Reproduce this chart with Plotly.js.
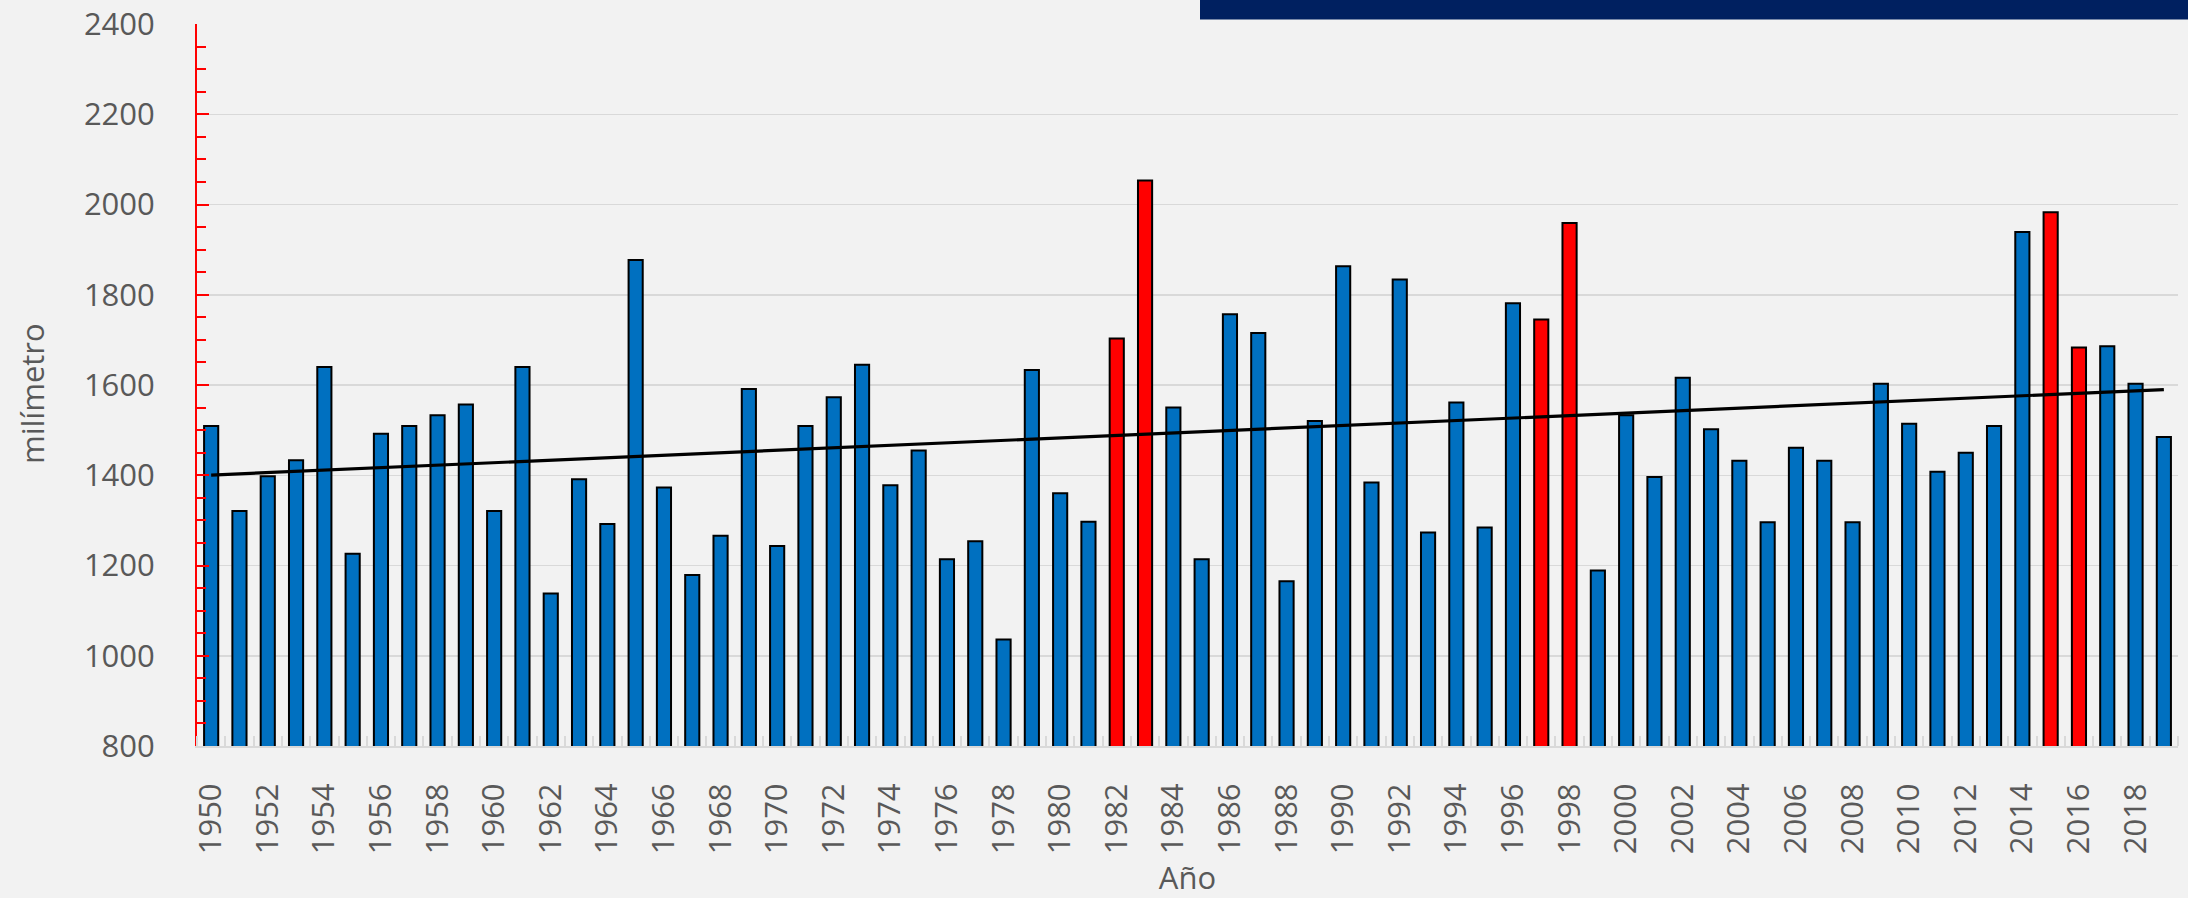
<!DOCTYPE html>
<html>
<head>
<meta charset="utf-8">
<script src="https://cdn.plot.ly/plotly-3.0.1.min.js"></script>
<style>
  html, body { margin: 0; padding: 0; background: #F2F2F2; }
  #chart { width: 2188px; height: 898px; }
</style>
</head>
<body>
<div id="chart"></div>
<script>
// ---- Data ----
const years = [
  1950, 1951, 1952, 1953, 1954, 1955, 1956, 1957, 1958, 1959,
  1960, 1961, 1962, 1963, 1964, 1965, 1966, 1967, 1968, 1969,
  1970, 1971, 1972, 1973, 1974, 1975, 1976, 1977, 1978, 1979,
  1980, 1981, 1982, 1983, 1984, 1985, 1986, 1987, 1988, 1989,
  1990, 1991, 1992, 1993, 1994, 1995, 1996, 1997, 1998, 1999,
  2000, 2001, 2002, 2003, 2004, 2005, 2006, 2007, 2008, 2009,
  2010, 2011, 2012, 2013, 2014, 2015, 2016, 2017, 2018, 2019
];
const rainfallMm = [
  1509, 1321, 1398, 1433, 1640, 1226, 1492, 1509, 1533, 1557,
  1321, 1640, 1138, 1391, 1292, 1877, 1373, 1179, 1266, 1591,
  1243, 1509, 1573, 1645, 1378, 1455, 1214, 1254, 1036, 1633,
  1360, 1297, 1703, 2053, 1550, 1214, 1757, 1715, 1165, 1520,
  1863, 1384, 1834, 1273, 1561, 1284, 1781, 1745, 1959, 1189,
  1533, 1396, 1616, 1502, 1432, 1296, 1461, 1432, 1296, 1603,
  1514, 1408, 1450, 1509, 1939, 1983, 1683, 1686, 1603, 1485
];
const highlightYears = [1982, 1983, 1997, 1998, 2015, 2016];
const xTitle = 'Año';
const yTitle = 'milímetro';

// ---- Styles ----
const BLUE = '#0070C0';
const RED = '#FF0000';
const TEXT = '#595959';
const GRID = '#D9D9D9';
const BG = '#F2F2F2';
const NAVY = '#002060';

const barColors = years.map(y => highlightYears.includes(y) ? RED : BLUE);

// Linear trend line (least squares fit of the data, as in the original spreadsheet)
const n = years.length;
const mx = years.reduce((a, b) => a + b, 0) / n;
const my = rainfallMm.reduce((a, b) => a + b, 0) / n;
let sxy = 0, sxx = 0;
for (let i = 0; i < n; i++) {
  sxy += (years[i] - mx) * (rainfallMm[i] - my);
  sxx += (years[i] - mx) * (years[i] - mx);
}
const slope = sxy / sxx;
const intercept = my - slope * mx;
const trendX = [years[0], years[n - 1]];
const trendY = trendX.map(x => intercept + slope * x);

const bars = {
  type: 'bar',
  x: years,
  y: rainfallMm,
  width: 0.5,
  marker: { color: barColors, line: { color: '#000000', width: 2 } },
  hoverinfo: 'x+y',
  showlegend: false
};
const trend = {
  type: 'scatter',
  mode: 'lines',
  x: trendX,
  y: trendY,
  line: { color: '#000000', width: 3.2 },
  hoverinfo: 'skip',
  showlegend: false
};

const FONT = 'Open Sans, Noto Sans, sans-serif';

const layout = {
  width: 2188,
  height: 898,
  paper_bgcolor: BG,
  plot_bgcolor: BG,
  margin: { l: 197, r: 10, t: 24, b: 152, pad: 0 },
  font: { family: FONT, color: TEXT, size: 31 },
  showlegend: false,
  xaxis: {
    range: [1949.5, 2019.5],
    tickmode: 'linear',
    tick0: 1950,
    dtick: 2,
    tickangle: -90,
    ticks: '',
    ticklabelstandoff: 23,
    tickfont: { family: FONT, size: 31, color: TEXT },
    showgrid: false,
    zeroline: false,
    showline: true,
    linecolor: GRID,
    linewidth: 2,
    minor: { tick0: 1949.5, dtick: 1, ticks: 'inside', ticklen: 10, tickwidth: 2, tickcolor: GRID, showgrid: false },
    title: { text: xTitle, font: { family: FONT, size: 31, color: TEXT }, standoff: 18 },
    fixedrange: true
  },
  yaxis: {
    range: [800, 2400],
    tickmode: 'linear',
    tick0: 800,
    dtick: 200,
    ticks: 'inside',
    ticklen: 12,
    tickwidth: 2,
    tickcolor: RED,
    ticklabelstandoff: 34,
    tickfont: { family: FONT, size: 31, color: TEXT },
    showgrid: true,
    gridcolor: GRID,
    gridwidth: 1.5,
    zeroline: false,
    showline: true,
    linecolor: RED,
    linewidth: 2,
    minor: { dtick: 50, ticks: 'inside', ticklen: 9, tickwidth: 2, tickcolor: RED, showgrid: false },
    fixedrange: true
  },
  annotations: [
    {
      text: yTitle,
      xref: 'paper', yref: 'paper',
      x: (32 - 197) / 1981, y: 1 - (394 - 24) / 722,
      xanchor: 'center', yanchor: 'middle',
      textangle: -90,
      showarrow: false,
      font: { family: FONT, size: 31, color: TEXT }
    }
  ],
  shapes: [
    {
      type: 'rect', xref: 'paper', yref: 'paper',
      x0: (1200 - 197) / 1981, x1: 1.01,
      y0: 1 + 4.5 / 722, y1: 1.06,
      fillcolor: NAVY, line: { width: 0 }, layer: 'above'
    }
  ]
};

Plotly.newPlot('chart', [bars, trend], layout, { displayModeBar: false, staticPlot: true });
</script>
</body>
</html>
